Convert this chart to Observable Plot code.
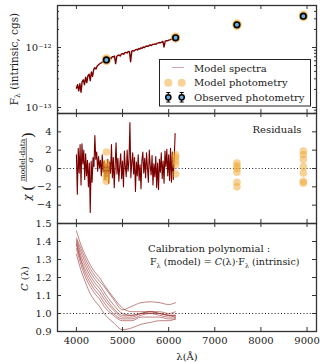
<!DOCTYPE html>
<html><head><meta charset="utf-8">
<script src="https://cdn.jsdelivr.net/npm/d3@7"></script>
<script src="https://cdn.jsdelivr.net/npm/@observablehq/plot@0.6"></script>
<style>
body{margin:0;background:#fff;}
#chart{width:320px;height:362px;overflow:hidden;}
#chart svg{display:block;background:none;overflow:visible;}
</style></head><body><div id="chart"></div>
<script>
// ---------- data ----------
const xTicks = [4000, 5000, 6000, 7000, 8000, 9000];

// model spectrum (flux in units of 1e-13 cgs), sampled every 25 Å from 4000 Å
const specStart = 4000, specStep = 25;
const specFlux = [
  2.1, 2.4, 1.9, 2.5,   1.8, 2.7, 2.9, 2.4,   3.2, 2.6, 3.4, 3.6,
  2.8, 3.9, 3.3, 4.3,   4.6, 4.4, 4.9, 5.1,   5.3, 5.5, 5.6, 5.9,
  6.0, 5.9, 6.2, 6.4,   6.5, 6.7, 6.5, 7.0,   7.0, 7.2, 5.4, 7.1,
  7.4, 7.5, 7.2, 7.8,   7.9, 7.7, 8.2, 8.3,   8.1, 8.6, 8.5, 5.8,
  8.7, 8.9, 8.7, 9.1,   9.3, 9.1, 9.6, 9.4,   9.9, 9.7, 10.2, 10.0,
  10.4, 10.6, 10.4, 10.8, 11.0, 10.8, 11.2, 11.3, 11.5, 11.3, 11.8, 11.9,
  12.1, 12.0, 12.3, 12.6, 10.2, 12.8, 13.0, 12.9, 13.3, 13.4, 13.7, 13.8,
  14.0, 14.2, 14.4
];

// photometry (flux in units of 1e-13 cgs)
const photWave = [4650, 6150, 7480, 8920];
const obsFlux = [6.2, 14.5, 23.9, 33.3];
const obsErr = [0.25, 0.5, 0.8, 1.1];
const modelPhotWave = [4650, 4650, 4650, 6150, 6150, 6150, 7480, 7480, 7480, 8920, 8920, 8920];
const modelPhotFlux = [6.0, 6.3, 6.5, 14.2, 14.6, 15.0, 23.2, 24.0, 24.8, 32.4, 33.5, 34.6];

// residuals chi = (model - data)/sigma, spectrum sampled every 20 Å from 4000 Å
const residStart = 4000, residStep = 20;
const residSpec = [
  1.5, -2.8, 2.2, -0.5, 2.6,   -1.8, 2.7, 0.5, 2.0, -1.2,   1.6, -0.8, 0.9, -2.0, 0.6,
  -4.8, 0.8, -1.5, 1.2, 0.2,   3.6, 1.0, 1.8, -0.3, 1.3,    0.1, 0.9, -0.8, 1.5, -0.4,
  0.8, -1.2, 0.5, -0.9, 1.0,   -1.6, 0.7, -0.5, 2.6, -1.0,  1.2, -2.1, 0.4, 2.8, -0.6,
  1.1, -1.4, 0.3, 1.6, -1.1,   0.8, -2.0, 1.9, 0.2, -0.9,   2.0, -0.3, 0.9, 5.0, -1.0,
  0.6, 1.7, -0.6, 1.2, -2.5,   0.7, -0.8, 1.5, -1.3, 0.4,   -2.2, 0.9, 1.8, -0.5, 1.1,
  -1.0, 1.7, 0.1, -1.5, 2.0,   0.3, -0.7, 1.4, -1.8, 0.5,   -0.9, 1.3, -2.1, 0.6, -2.3,
  1.0, -0.4, 1.7, -1.1, 0.8,   -1.6, 1.9, 0.2, 2.1, -0.8,   1.5, -1.3, 2.2, -1.5, 1.8,
  -1.2, 1.0, 3.8
];
const residPhotWave = [4650, 4650, 4650, 4650, 4650, 4650, 4650,
  6150, 6150, 6150, 6150, 6150,
  7480, 7480, 7480, 7480, 7480, 7480,
  8920, 8920, 8920, 8920, 8920, 8920, 8920];
const residPhotVal = [1.8, 0.6, 0.2, -0.3, -0.7, -1.0, -1.4,
  1.5, 1.2, 0.8, 0.4, -0.6,
  0.6, 0.3, 0.0, -0.4, -1.5, -2.0,
  1.9, 1.5, 1.0, 0.2, -0.5, -1.4, -1.6];

// calibration polynomial samples
const calibWave = [4000, 4100, 4200, 4300, 4400, 4500, 4600, 4800, 5000, 5200, 5400, 5600, 5800, 6000, 6150];
const calibCurves = [
  [1.46, 1.38, 1.32, 1.27, 1.23, 1.20, 1.16, 1.09, 1.03, 1.01, 1.01, 1.01, 1.00, 0.99, 0.99],
  [1.42, 1.36, 1.30, 1.25, 1.21, 1.18, 1.15, 1.08, 1.02, 1.04, 1.06, 1.065, 1.06, 1.05, 1.06],
  [1.41, 1.34, 1.28, 1.23, 1.19, 1.16, 1.12, 1.05, 1.00, 0.99, 1.00, 1.01, 1.00, 0.99, 0.98],
  [1.40, 1.32, 1.26, 1.21, 1.17, 1.14, 1.10, 1.03, 0.99, 0.99, 1.00, 1.00, 1.00, 0.99, 0.99],
  [1.39, 1.30, 1.24, 1.19, 1.15, 1.12, 1.08, 1.02, 0.98, 0.98, 1.00, 1.01, 1.01, 1.00, 1.01],
  [1.38, 1.29, 1.22, 1.17, 1.13, 1.10, 1.06, 1.00, 0.97, 0.97, 0.99, 1.00, 0.99, 0.98, 0.98],
  [1.36, 1.27, 1.20, 1.15, 1.11, 1.08, 1.04, 0.99, 0.96, 0.96, 0.98, 0.98, 0.98, 0.97, 0.97],
  [1.33, 1.24, 1.17, 1.11, 1.07, 1.04, 1.00, 0.95, 0.91, 0.92, 0.94, 0.95, 0.96, 0.96, 0.97]
];

// axis ticks
const fluxTicks = [1, 10];
const fluxTickLabels = ["10⁻¹³", "10⁻¹²"];
const fluxMinor = [0.8, 0.9, 2, 3, 4, 5, 6, 7, 8, 9, 20, 30, 40];
const chiTicks = [-4, -2, 0, 2, 4];
const calTicks = [0.9, 1.0, 1.1, 1.2, 1.3, 1.4, 1.5];

// ---------- tables ----------
const spec = specFlux.map((f, i) => ({w: specStart + i * specStep, f}));
const obs = photWave.map((w, i) => ({w, f: obsFlux[i], e: obsErr[i]}));
const modelPhot = modelPhotWave.map((w, i) => ({w, f: modelPhotFlux[i]}));
const resid = residSpec.map((v, i) => ({w: residStart + i * residStep, v}));
const residPhot = residPhotWave.map((w, i) => ({w, v: residPhotVal[i]}));
const calib = calibCurves.flatMap((c, k) => c.map((v, i) => ({w: calibWave[i], v, k})));

// ---------- shared ----------
const xDomain = [3590, 9205];
const fluxDomain = [10 ** -0.1, 10 ** 1.7];
const chiDomain = [-6, 6];
const calDomain = [0.9, 1.5];
const ink = "#333";
const font = "DejaVu Serif";
const style = {fontFamily: font, fontSize: "10px", background: "none", overflow: "visible", color: "#1a1a1a"};
const minus = d => (d < 0 ? "\u2212" + (-d) : String(d));

function edgeTicks(yd, yMajor, yMinor) {
  const s = {stroke: ink, strokeWidth: 1};
  return [
    Plot.ruleX(xTicks, {x: d => d, y1: yd[0], y2: yd[0], insetBottom: 4, ...s}),
    Plot.ruleX(xTicks, {x: d => d, y1: yd[1], y2: yd[1], insetTop: 4, ...s}),
    Plot.ruleY(yMajor, {y: d => d, x1: xDomain[0], x2: xDomain[0], insetLeft: 4, ...s}),
    Plot.ruleY(yMajor, {y: d => d, x1: xDomain[1], x2: xDomain[1], insetRight: 4, ...s}),
    Plot.ruleY(yMinor, {y: d => d, x1: xDomain[0], x2: xDomain[0], insetLeft: 2, ...s}),
    Plot.ruleY(yMinor, {y: d => d, x1: xDomain[1], x2: xDomain[1], insetRight: 2, ...s})
  ];
}

// ---------- panel 1: spectrum ----------
const p1 = Plot.plot({
  width: 320, height: 114, marginTop: 5, marginBottom: 1, marginLeft: 57, marginRight: 4,
  style,
  x: {domain: xDomain, axis: null},
  y: {type: "log", domain: fluxDomain, ticks: fluxTicks, tickFormat: d => fluxTickLabels[fluxTicks.indexOf(d)],
      tickSize: 0, tickPadding: 6, label: null},
  marks: [
    Plot.line(spec, {x: "w", y: "f", stroke: "#7d0000", strokeWidth: 1.4}),
    Plot.ruleX(obs, {x: "w", y1: d => d.f - d.e, y2: d => d.f + d.e, stroke: "#000"}),
    Plot.dot(modelPhot, {x: "w", y: "f", r: 4.5, fill: "#f0a830", fillOpacity: 0.5, stroke: null}),
    Plot.dot(obs, {x: "w", y: "f", r: 2.8, fill: "#6aaee0", stroke: "#000", strokeWidth: 1.6}),
    ...edgeTicks(fluxDomain, fluxTicks, fluxMinor),
    Plot.frame({stroke: ink, strokeWidth: 1.3})
  ]
});

// ---------- panel 2: residuals ----------
const p2 = Plot.plot({
  width: 320, height: 112, marginTop: 1, marginBottom: 1, marginLeft: 57, marginRight: 4,
  style,
  x: {domain: xDomain, axis: null},
  y: {domain: chiDomain, ticks: chiTicks, tickFormat: minus, tickSize: 0, tickPadding: 6, label: null},
  marks: [
    Plot.ruleY([0], {stroke: "#222", strokeDasharray: "1,2.2", strokeWidth: 1}),
    Plot.line(resid, {x: "w", y: "v", stroke: "#7a0000", strokeWidth: 1.1}),
    Plot.dot(residPhot, {x: "w", y: "v", r: 3.8, fill: "#f0a830", fillOpacity: 0.5, stroke: null}),
    Plot.text(["Residuals"], {frameAnchor: "top-right", dx: -15, dy: 12, lineAnchor: "top", textAnchor: "end", fontSize: 10, fill: "#1a1a1a"}),
    ...edgeTicks(chiDomain, chiTicks, []),
    Plot.frame({stroke: ink, strokeWidth: 1.3})
  ]
});

// ---------- panel 3: calibration ----------
const p3 = Plot.plot({
  width: 320, height: 140, marginTop: 1, marginBottom: 31, marginLeft: 57, marginRight: 4,
  style,
  x: {domain: xDomain, ticks: xTicks, tickFormat: d => String(d), tickSize: 0, tickPadding: 5, label: null},
  y: {domain: calDomain, ticks: calTicks, tickFormat: d => d.toFixed(1), tickSize: 0, tickPadding: 6, label: null},
  marks: [
    Plot.ruleY([1], {stroke: "#222", strokeDasharray: "1,2.2", strokeWidth: 1}),
    Plot.line(calib, {x: "w", y: "v", z: "k", curve: "monotone-x", stroke: "#9a3030", strokeOpacity: 0.6, strokeWidth: 1}),
    ...edgeTicks(calDomain, calTicks, []),
    Plot.frame({stroke: ink, strokeWidth: 1.3})
  ]
});

const root = document.getElementById("chart");
root.append(p1, p2, p3);
p2.style.marginTop = "-2px";
p3.style.marginTop = "-2px";

// ---------- text decorations ----------
// y label panel 1
{
  const t = d3.select(p1).append("text").attr("transform", "translate(17.5,59) rotate(-90)")
    .attr("text-anchor", "middle").attr("font-family", font).attr("font-size", 10.5).attr("fill", "#1a1a1a");
  t.append("tspan").text("F");
  t.append("tspan").attr("dy", 2.5).attr("font-size", 7.5).text("λ");
  t.append("tspan").attr("dy", -2.5).text(" (intrinsic, cgs)");
}

// legend panel 1
{
  const g = d3.select(p1).append("g").attr("font-family", font).attr("font-size", 10)
    .attr("fill", "#1a1a1a").attr("text-anchor", "start");
  g.append("rect").attr("x", 159.5).attr("y", 59.5).attr("width", 151).attr("height", 46.5)
    .attr("fill", "#fff").attr("stroke", "#222").attr("stroke-width", 1);
  g.append("line").attr("x1", 172).attr("x2", 184).attr("y1", 67.5).attr("y2", 67.5)
    .attr("stroke", "#d9a3ab").attr("stroke-width", 1);
  g.append("text").attr("x", 194).attr("y", 71.5).text("Model spectra");
  for (const cx of [168.3, 181.7]) {
    g.append("circle").attr("cx", cx).attr("cy", 82.7).attr("r", 4).attr("fill", "#f0a830").attr("fill-opacity", 0.5);
    g.append("line").attr("x1", cx).attr("x2", cx).attr("y1", 92.5).attr("y2", 102).attr("stroke", "#000");
    g.append("line").attr("x1", cx - 2).attr("x2", cx + 2).attr("y1", 92.5).attr("y2", 92.5).attr("stroke", "#000");
    g.append("line").attr("x1", cx - 2).attr("x2", cx + 2).attr("y1", 102).attr("y2", 102).attr("stroke", "#000");
    g.append("circle").attr("cx", cx).attr("cy", 97.3).attr("r", 2.6).attr("fill", "#6aaee0").attr("stroke", "#000").attr("stroke-width", 1.5);
  }
  g.append("text").attr("x", 194).attr("y", 86.2).text("Model photometry");
  g.append("text").attr("x", 194).attr("y", 101).text("Observed photometry");
}

// y label panel 2: chi (model-data / sigma)
{
  const g = d3.select(p2).append("g").attr("transform", "translate(30.5,56) rotate(-90)")
    .attr("font-family", font).attr("fill", "#1a1a1a").attr("text-anchor", "middle");
  g.append("text").attr("x", -29.5).attr("y", 0).attr("font-size", 10.5)
    .attr("font-style", "italic").text("χ");
  g.append("text").attr("x", -20).attr("y", 2).attr("font-size", 15).text("(");
  g.append("text").attr("x", 33).attr("y", 2).attr("font-size", 15).text(")");
  g.append("text").attr("x", 8).attr("y", -6).attr("font-size", 7.5).text("model-data");
  g.append("line").attr("x1", -14).attr("x2", 30).attr("y1", -4.2).attr("y2", -4.2).attr("stroke", "#1a1a1a").attr("stroke-width", 0.6);
  g.append("text").attr("x", 8).attr("y", 2.5).attr("font-size", 7.5).attr("font-style", "italic").text("σ");
}

// y label + annotation + x label panel 3
{
  const s = d3.select(p3);
  const t = s.append("text").attr("transform", "translate(27.5,56.5) rotate(-90)")
    .attr("text-anchor", "middle").attr("font-family", font).attr("font-size", 10).attr("fill", "#1a1a1a");
  t.append("tspan").attr("font-style", "italic").text("C");
  t.append("tspan").text(" (λ)");

  const a = s.append("g").attr("font-family", font).attr("font-size", 10)
    .attr("fill", "#1a1a1a").attr("text-anchor", "start");
  a.append("text").attr("x", 148).attr("y", 29.5).text("Calibration polynomial :");
  const l2 = a.append("text").attr("x", 150).attr("y", 43).attr("font-size", 9.5);
  l2.append("tspan").text("F");
  l2.append("tspan").attr("dy", 2.5).attr("font-size", 6.5).text("λ");
  l2.append("tspan").attr("dy", -2.5).text(" (model) = ");
  l2.append("tspan").attr("font-style", "italic").text("C");
  l2.append("tspan").text("(λ)·F");
  l2.append("tspan").attr("dy", 2.5).attr("font-size", 6.5).text("λ");
  l2.append("tspan").attr("dy", -2.5).text(" (intrinsic)");

  s.append("text").attr("x", 187).attr("y", 137.5).attr("text-anchor", "middle")
    .attr("font-family", font).attr("font-size", 10).attr("fill", "#1a1a1a").text("λ(Å)");
}
</script></body></html>
